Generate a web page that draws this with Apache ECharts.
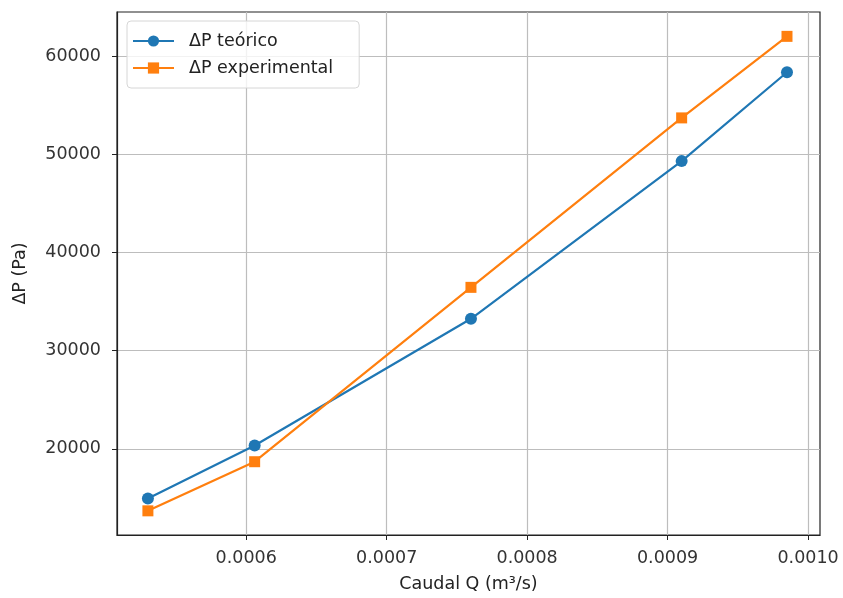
<!DOCTYPE html>
<html><head><meta charset="utf-8">
<script src="https://cdn.jsdelivr.net/npm/echarts@6/dist/echarts.min.js"></script>
<style>html,body{margin:0;padding:0;background:#fff}#c{width:843px;height:598px}</style>
</head><body><div id="c"></div>
<script>
const caudal = [0.00053, 0.000606, 0.00076, 0.00091, 0.000985];
const dpTeorico = [14950, 20350, 33250, 49300, 58350];
const dpExperimental = [13700, 18700, 36450, 53700, 62000];
const xTicks = [0.0006, 0.0007, 0.0008, 0.0009, 0.0010];
const yTicks = [20000, 30000, 40000, 50000, 60000];

const font = 'DejaVu Sans';
const fs = 17.5;
const chart = echarts.init(document.getElementById('c'));
chart.setOption({
  animation: false,
  grid: {left: 117, right: 23, top: 12, bottom: 63, show: true,
    borderColor: '#222', borderWidth: 1.2, backgroundColor: 'transparent'},
  legend: {
    left: 127, top: 21, orient: 'vertical',
    padding: [11, 26, 11, 5], itemGap: 9,
    itemWidth: 41, itemHeight: 14,
    borderColor: '#d6d6d6', borderWidth: 1, borderRadius: 4,
    backgroundColor: 'rgba(255,255,255,0.8)',
    textStyle: {fontFamily: font, fontSize: fs, lineHeight: 18, color: '#222', padding: [0, 0, 0, 10]},
    data: ['ΔP teórico', 'ΔP experimental']
  },
  xAxis: {
    type: 'value', min: 0.000508, max: 0.0010085,
    name: 'Caudal Q (m³/s)', nameLocation: 'middle', nameGap: 40,
    nameTextStyle: {fontFamily: font, fontSize: fs, color: '#222'},
    axisLine: {show: true, onZero: false, lineStyle: {color: '#222', width: 1.2}},
    axisTick: {show: true, length: 5, customValues: xTicks, lineStyle: {color: '#222'}},
    axisLabel: {customValues: xTicks, fontFamily: font, fontSize: fs, color: '#333', margin: 14,
      formatter: v => v.toFixed(4)},
    splitLine: {show: true, lineStyle: {color: '#bdbdbd', width: 1.2}}
  },
  yAxis: {
    type: 'value', min: 11240, max: 64480,
    name: 'ΔP (Pa)', nameLocation: 'middle', nameGap: 88, nameRotate: 90,
    nameTextStyle: {fontFamily: font, fontSize: fs, color: '#222'},
    axisLine: {show: true, onZero: false, lineStyle: {color: '#222', width: 1.2}},
    axisTick: {show: true, length: 5, customValues: yTicks, lineStyle: {color: '#222'}},
    axisLabel: {customValues: yTicks, fontFamily: font, fontSize: fs, color: '#333', margin: 16,
      formatter: v => String(v)},
    splitLine: {show: true, lineStyle: {color: '#bdbdbd', width: 1.2}}
  },
  series: [
    {name: 'ΔP teórico', type: 'line', data: caudal.map((x, i) => [x, dpTeorico[i]]),
     symbol: 'circle', symbolSize: 12, lineStyle: {width: 2.2, color: '#1f77b4'},
     itemStyle: {color: '#1f77b4'}},
    {name: 'ΔP experimental', type: 'line', data: caudal.map((x, i) => [x, dpExperimental[i]]),
     symbol: 'rect', symbolSize: 11, lineStyle: {width: 2.2, color: '#ff7f0e'},
     itemStyle: {color: '#ff7f0e'}}
  ]
});
</script></body></html>
